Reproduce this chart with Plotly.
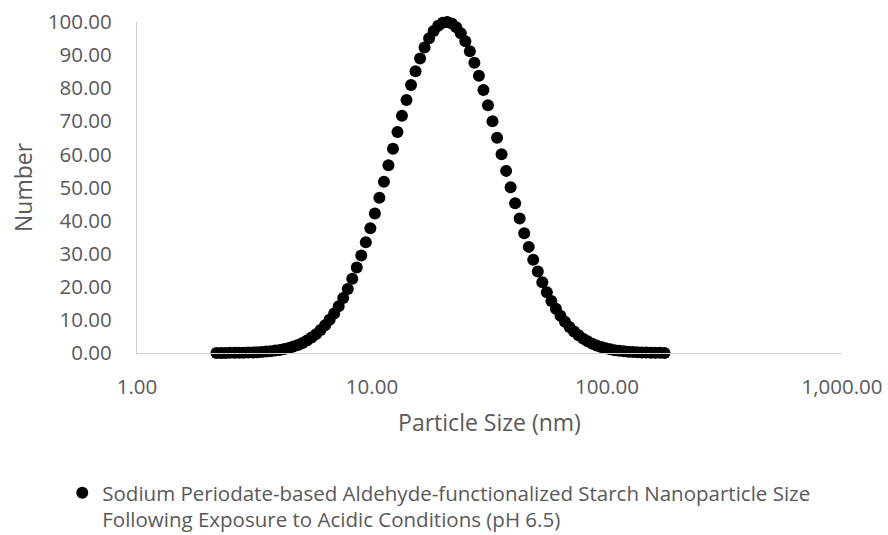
import plotly.graph_objects as go

# Particle size (nm) (log-spaced bins)
particle_size = [
    2.178, 2.277, 2.380, 2.488, 2.601, 2.719, 2.842, 2.971, 3.106, 3.247,
    3.394, 3.548, 3.709, 3.877, 4.053, 4.237, 4.429, 4.630, 4.840, 5.059,
    5.289, 5.529, 5.780, 6.042, 6.316, 6.602, 6.902, 7.215, 7.542, 7.884,
    8.241, 8.613, 9.004, 9.412, 9.839, 10.285, 10.752, 11.239, 11.749, 12.282,
    12.838, 13.41, 14.02, 14.66, 15.32, 16.02, 16.74, 17.50, 18.30, 19.13,
    19.99, 20.90, 21.85, 22.84, 23.87, 24.96, 26.09, 27.27, 28.51, 29.80,
    31.15, 32.57, 34.05, 35.59, 37.21, 38.89, 40.66, 42.50, 44.43, 46.45,
    48.55, 50.76, 53.06, 55.46, 57.98, 60.61, 63.36, 66.23, 69.24, 72.38,
    75.66, 79.09, 82.68, 86.43, 90.35, 94.45, 98.73, 103.21, 107.89, 112.78,
    117.90, 123.25, 128.84, 134.68, 140.79, 147.18, 153.85, 160.83, 168.12, 175.75,
]

# Number (%)
number = [
    0.01, 0.02, 0.03, 0.04, 0.05, 0.07, 0.10, 0.13, 0.18, 0.24,
    0.32, 0.42, 0.55, 0.72, 0.93, 1.20, 1.53, 1.94, 2.44, 3.04,
    3.78, 4.66, 5.70, 6.93, 8.37, 10.03, 11.94, 14.13, 16.59, 19.34,
    22.42, 25.80, 29.46, 33.43, 37.67, 42.16, 46.87, 51.72, 56.71, 61.73,
    66.75, 71.69, 76.43, 80.95, 85.14, 88.94, 92.27, 95.07, 97.28, 98.85,
    99.76, 100.00, 99.53, 98.39, 96.60, 94.19, 91.19, 87.71, 83.76, 79.46,
    74.85, 70.01, 65.06, 60.03, 55.02, 50.07, 45.24, 40.62, 36.21, 32.06,
    28.19, 24.61, 21.35, 18.38, 15.73, 13.36, 11.27, 9.44, 7.86, 6.50,
    5.33, 4.34, 3.52, 2.83, 2.26, 1.79, 1.41, 1.10, 0.86, 0.66,
    0.51, 0.38, 0.29, 0.22, 0.16, 0.12, 0.09, 0.06, 0.05, 0.03,
]

x_tickvals = [1, 10, 100, 1000]
x_ticktext = ["1.00", "10.00", "100.00", "1,000.00"]
y_tickvals = [0, 10, 20, 30, 40, 50, 60, 70, 80, 90, 100]
y_ticktext = ["%.2f" % v for v in y_tickvals]

series_name = ("Sodium Periodate-based Aldehyde-functionalized Starch Nanoparticle Size<br>"
               "Following Exposure to Acidic Conditions (pH 6.5)")

FONT = "Open Sans, sans-serif"
GREY = "#595959"
AXIS = "#d0d0d0"

fig = go.Figure()
fig.add_trace(go.Scatter(
    x=particle_size, y=number, mode="markers", name=series_name,
    marker=dict(color="black", size=12, line=dict(width=0)),
    cliponaxis=False, showlegend=True,
))

fig.update_layout(
    width=888, height=535,
    margin=dict(l=137, r=46, t=22, b=182, autoexpand=False),
    paper_bgcolor="white", plot_bgcolor="white",
    font=dict(family=FONT, color=GREY),
    showlegend=True,
    legend=dict(
        x=-0.106, xanchor="left", y=-0.362, yanchor="top",
        font=dict(family=FONT, size=20.5, color=GREY),
        valign="top", itemwidth=30, bgcolor="rgba(0,0,0,0)",
        borderwidth=0,
    ),
    xaxis=dict(
        type="log", range=[0, 3],
        tickvals=x_tickvals, ticktext=x_ticktext,
        showgrid=False, zeroline=False,
        showline=True, linecolor=AXIS, linewidth=1.3,
        ticks="", ticklabelstandoff=15,
        tickfont=dict(family=FONT, size=20.5, color=GREY),
        title=dict(text="Particle Size (nm)", standoff=16,
                   font=dict(family=FONT, size=23, color=GREY)),
    ),
    yaxis=dict(
        range=[0, 100],
        tickvals=y_tickvals, ticktext=y_ticktext,
        showgrid=False, zeroline=False,
        showline=True, linecolor=AXIS, linewidth=1.3,
        ticks="", ticklabelstandoff=20,
        tickfont=dict(family=FONT, size=20.5, color=GREY),
        title=dict(text="Number", standoff=8,
                   font=dict(family=FONT, size=23, color=GREY)),
    ),
)

fig.write_html("out.html")
